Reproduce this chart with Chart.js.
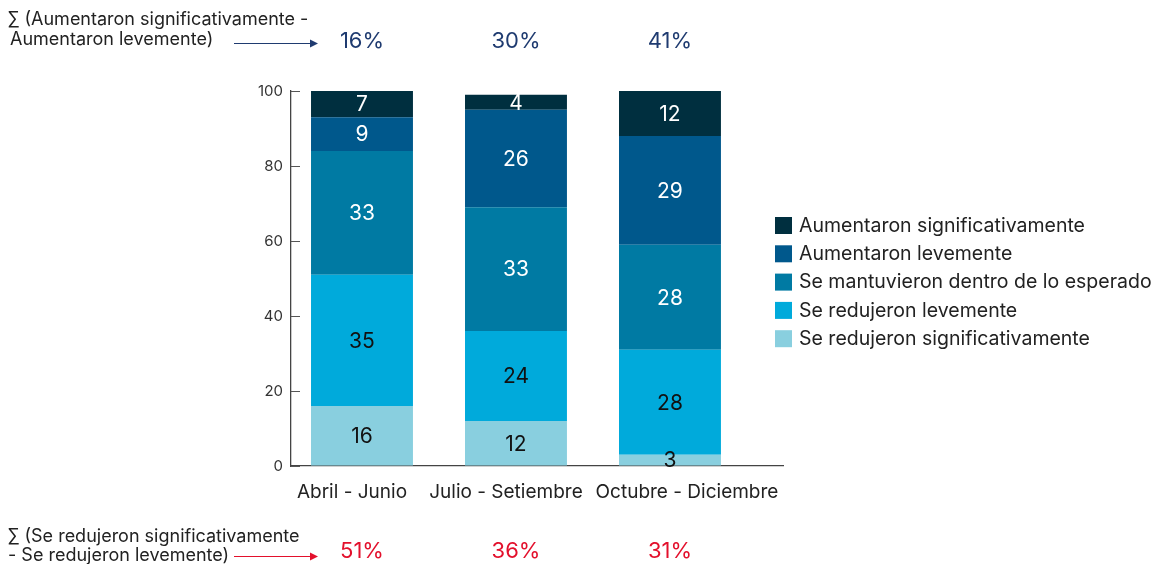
<!DOCTYPE html>
<html>
<head>
<meta charset="utf-8">
<script src="https://cdn.jsdelivr.net/npm/chart.js@4.4.1/dist/chart.umd.min.js"></script>
<style>
  html, body { margin: 0; padding: 0; background: #fff; }
  #wrap { position: relative; width: 1159px; height: 564px; }
  canvas { display: block; }
</style>
</head>
<body>
<div id="wrap"><canvas id="c" width="1159" height="564"></canvas></div>
<script>
const FONT = 'Inter';
const categories = ['Abril - Junio', 'Julio - Setiembre', 'Octubre - Diciembre'];
const seriesNames = [
  'Se redujeron significativamente',
  'Se redujeron levemente',
  'Se mantuvieron dentro de lo esperado',
  'Aumentaron levemente',
  'Aumentaron significativamente'
];
const redujeronSignif = [16, 12, 3];
const redujeronLeve = [35, 24, 28];
const mantuvieron = [33, 33, 28];
const aumentaronLeve = [9, 26, 29];
const aumentaronSignif = [7, 4, 12];
const yTicks = [0, 20, 40, 60, 80, 100];
const topNote = ['∑ (Aumentaron significativamente -', 'Aumentaron levemente)'];
const bottomNote = ['∑ (Se redujeron significativamente', '- Se redujeron levemente)'];

const seriesValues = [redujeronSignif, redujeronLeve, mantuvieron, aumentaronLeve, aumentaronSignif];
const colors = ['#89CFDF', '#00AADB', '#007AA3', '#00588C', '#002F3F'];
const labelColors = ['#111', '#111', '#fff', '#fff', '#fff'];
const xLabelShift = [-10, -10, 17];

const sumUp = categories.map((c, i) => aumentaronSignif[i] + aumentaronLeve[i]);
const sumDown = categories.map((c, i) => redujeronSignif[i] + redujeronLeve[i]);

const datasets = seriesNames.map((name, k) => ({
  label: name,
  data: seriesValues[k].map((v, i) => ({ x: i, y: v })),
  backgroundColor: colors[k],
  borderWidth: 0,
  categoryPercentage: 1,
  barPercentage: 0.662
}));

const overlay = {
  id: 'overlay',
  afterDatasetsDraw(chart) {
    const ctx = chart.ctx;
    ctx.save();
    ctx.font = '21px ' + FONT;
    ctx.textAlign = 'center';
    ctx.textBaseline = 'middle';
    chart.data.datasets.forEach((ds, k) => {
      const meta = chart.getDatasetMeta(k);
      meta.data.forEach((el, i) => {
        const v = seriesValues[k][i];
        ctx.fillStyle = labelColors[k];
        ctx.fillText(String(v), el.x, (el.y + el.base) / 2 + 1);
      });
    });
    ctx.restore();
  },
  afterDraw(chart) {
    const ctx = chart.ctx;
    const xs = chart.scales.x, ys = chart.scales.y;
    const area = chart.chartArea;
    ctx.save();
    // inner y ticks
    ctx.strokeStyle = '#555';
    ctx.lineWidth = 1;
    yTicks.forEach(t => {
      const py = Math.round(ys.getPixelForValue(t)) + 0.5;
      ctx.beginPath();
      ctx.moveTo(area.left, py);
      ctx.lineTo(area.left + 9, py);
      ctx.stroke();
    });
    // x category labels
    ctx.font = '19px ' + FONT;
    ctx.fillStyle = '#222';
    ctx.textAlign = 'center';
    ctx.textBaseline = 'middle';
    categories.forEach((c, i) => {
      ctx.fillText(c, xs.getPixelForValue(i) + xLabelShift[i], 492);
    });
    // legend
    ctx.font = '19.5px ' + FONT;
    ctx.textAlign = 'left';
    const order = [4, 3, 2, 1, 0];
    order.forEach((k, r) => {
      const cy = 225 + r * 28.3;
      ctx.fillStyle = colors[k];
      ctx.fillRect(775, cy - 8, 17, 17);
      ctx.fillStyle = '#222';
      ctx.fillText(seriesNames[k], 799, cy + 1);
    });
    // notes
    ctx.font = '18px ' + FONT;
    ctx.fillStyle = '#222';
    ctx.fillText(topNote[0], 8, 20);
    ctx.fillText(topNote[1], 10, 40);
    ctx.fillText(bottomNote[0], 8, 537);
    ctx.fillText(bottomNote[1], 8, 556);
    // arrows
    function arrow(x1, x2, y, col) {
      ctx.strokeStyle = col; ctx.fillStyle = col; ctx.lineWidth = 1;
      ctx.beginPath(); ctx.moveTo(x1, y + 0.5); ctx.lineTo(x2 - 6, y + 0.5); ctx.stroke();
      ctx.beginPath(); ctx.moveTo(x2 - 8, y - 3.5); ctx.lineTo(x2, y + 0.5); ctx.lineTo(x2 - 8, y + 4.5); ctx.closePath(); ctx.fill();
    }
    arrow(234, 318, 43, '#1F3B70');
    arrow(234, 318, 556, '#E3102C');
    // sums
    ctx.font = '22px ' + FONT;
    ctx.textAlign = 'center';
    categories.forEach((c, i) => {
      const px = xs.getPixelForValue(i);
      ctx.fillStyle = '#1F3B70';
      ctx.fillText(sumUp[i] + '%', px, 41);
      ctx.fillStyle = '#E3102C';
      ctx.fillText(sumDown[i] + '%', px, 551);
    });
    ctx.restore();
  }
};

new Chart(document.getElementById('c'), {
  type: 'bar',
  data: { datasets },
  options: {
    responsive: false,
    devicePixelRatio: 1,
    animation: false,
    layout: { padding: { left: 241, top: 91, right: 376, bottom: 58 } },
    plugins: { legend: { display: false }, tooltip: { enabled: false } },
    scales: {
      x: {
        type: 'linear',
        stacked: true,
        offset: false,
        min: -0.461,
        max: 2.734,
        afterFit(s) { s.height = 40; },
        afterBuildTicks(s) { s.ticks = categories.map((c, i) => ({ value: i })); },
        ticks: { display: false },
        grid: { display: false, drawTicks: false, offset: false },
        border: { display: true, color: '#444', width: 1.3 }
      },
      y: {
        stacked: true,
        min: 0,
        max: 100,
        afterFit(s) { s.width = 50; },
        afterBuildTicks(s) { s.ticks = yTicks.map(v => ({ value: v })); },
        ticks: {
          font: { family: FONT, size: 15 },
          color: '#333',
          padding: 8
        },
        grid: { drawOnChartArea: false, drawTicks: false, tickLength: 0 },
        border: { display: true, color: '#444', width: 1.3 }
      }
    }
  },
  plugins: [overlay]
});
</script>
</body>
</html>
